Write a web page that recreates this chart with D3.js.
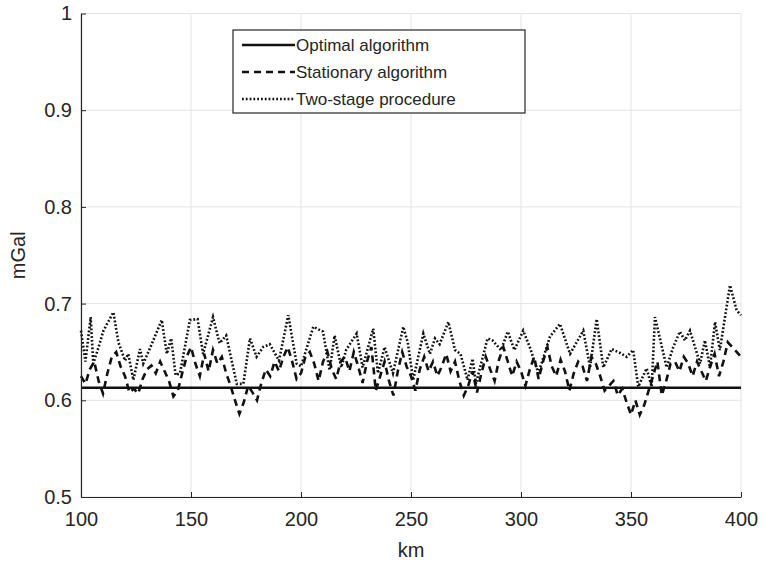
<!DOCTYPE html>
<html>
<head>
<meta charset="utf-8">
<script src="https://cdn.jsdelivr.net/npm/d3@7"></script>
<style>
  body { margin: 0; background: #fff; }
  text { font-family: "Liberation Sans", Arial, sans-serif; fill: #262626; }
  .grid line { stroke: #e3e3e3; stroke-width: 1; }
  .axis path, .axis line { stroke: #262626; }
</style>
</head>
<body>
<div class="chart"></div>
<script>
// -----------------------------------------------------------------------
// Data
// -----------------------------------------------------------------------

const X_TICKS = [100, 150, 200, 250, 300, 350, 400];
const Y_TICKS = [0.5, 0.6, 0.7, 0.8, 0.9, 1];
const SERIES_NAMES = ["Optimal algorithm", "Stationary algorithm", "Two-stage procedure"];

// optimal algorithm: flat line
const optimalKm = [100, 400];
const optimalVal = [0.613, 0.613];

// stationary algorithm, every 2 km
const stationaryKm = d3.range(100, 401, 2);
const stationaryVal = [
  0.625, 0.617, 0.632, 0.640, 0.620, 0.607, 0.628, 0.645, 0.650, 0.635,
  0.625, 0.608, 0.612, 0.607, 0.622, 0.632, 0.636, 0.628, 0.640, 0.630,
  0.620, 0.604, 0.610, 0.628, 0.645, 0.655, 0.638, 0.625, 0.648, 0.630,
  0.652, 0.638, 0.645, 0.628, 0.615, 0.600, 0.586, 0.598, 0.615, 0.608,
  0.600, 0.618, 0.632, 0.625, 0.640, 0.630, 0.645, 0.655, 0.640, 0.622,
  0.628, 0.645, 0.650, 0.638, 0.620, 0.640, 0.650, 0.632, 0.622, 0.640,
  0.645, 0.630, 0.650, 0.635, 0.618, 0.640, 0.655, 0.610, 0.625, 0.640,
  0.620, 0.605, 0.630, 0.650, 0.635, 0.625, 0.610, 0.632, 0.645, 0.630,
  0.640, 0.625, 0.635, 0.648, 0.630, 0.640, 0.620, 0.605, 0.615, 0.630,
  0.608, 0.628, 0.645, 0.632, 0.620, 0.642, 0.655, 0.640, 0.625, 0.640,
  0.630, 0.615, 0.632, 0.645, 0.622, 0.640, 0.655, 0.635, 0.625, 0.642,
  0.630, 0.610, 0.628, 0.640, 0.635, 0.620, 0.645, 0.638, 0.625, 0.610,
  0.615, 0.620, 0.605, 0.612, 0.598, 0.585, 0.600, 0.585, 0.595, 0.610,
  0.625, 0.640, 0.605, 0.620, 0.638, 0.640, 0.630, 0.645, 0.638, 0.625,
  0.640, 0.630, 0.620, 0.635, 0.648, 0.625, 0.640, 0.660, 0.655, 0.650,
  0.645
];

// two-stage procedure, peaks and troughs
const twoStageKm = [
  100, 102, 104.4, 105.6, 108, 110.2, 114.7, 117, 120, 121.5,
  123.8, 126.8, 128.3, 131, 136.7, 139, 141, 143, 145, 149.5,
  153, 155.5, 160, 163, 166, 170.8, 173.8, 176.8, 179.8, 182.8,
  185.8, 190, 194.2, 198, 200, 205.6, 210, 213, 215.3, 218.3,
  220.5, 225.3, 228, 232.8, 235, 238, 241.8, 246.5, 248.5, 251,
  255.6, 258.6, 260.9, 263, 267, 270, 272.5, 275.7, 278, 279.5,
  284.8, 287, 290.9, 294, 297, 301, 304, 307.9, 313.2, 317.7,
  322.3, 328.3, 331.4, 334.4, 337.4, 341.2, 345, 348, 351, 353.3,
  357.1, 359.4, 360.9, 366.2, 369.2, 372.2, 374.5, 376.8, 381.4, 383.6,
  385.9, 388.2, 390.4, 395, 398, 400
];
const twoStageVal = [
  0.672, 0.640, 0.686, 0.638, 0.655, 0.672, 0.691, 0.660, 0.641, 0.648,
  0.621, 0.653, 0.638, 0.652, 0.683, 0.648, 0.664, 0.626, 0.628, 0.683,
  0.684, 0.648, 0.686, 0.659, 0.667, 0.617, 0.617, 0.664, 0.645, 0.655,
  0.658, 0.641, 0.688, 0.638, 0.635, 0.676, 0.671, 0.631, 0.667, 0.634,
  0.652, 0.669, 0.634, 0.674, 0.628, 0.655, 0.628, 0.676, 0.660, 0.621,
  0.669, 0.648, 0.664, 0.658, 0.681, 0.652, 0.648, 0.621, 0.643, 0.617,
  0.664, 0.662, 0.652, 0.671, 0.652, 0.672, 0.655, 0.628, 0.666, 0.679,
  0.648, 0.672, 0.634, 0.684, 0.634, 0.653, 0.649, 0.645, 0.652, 0.614,
  0.633, 0.614, 0.686, 0.634, 0.655, 0.671, 0.662, 0.672, 0.638, 0.662,
  0.634, 0.681, 0.652, 0.719, 0.693, 0.688
];

// -----------------------------------------------------------------------
// Layout
// -----------------------------------------------------------------------

const WIDTH = 766;
const HEIGHT = 567;
const margin = { left: 81, right: 25, top: 13.5, bottom: 70 };

const DASHES = ["none", "7,5", "1.8,2"];

const svg = d3.select(".chart")
  .append("svg")
  .attr("width", WIDTH)
  .attr("height", HEIGHT);

const xScale = d3.scaleLinear()
  .domain([100, 400])
  .range([margin.left, WIDTH - margin.right]);
const yScale = d3.scaleLinear()
  .domain([0.5, 1])
  .range([HEIGHT - margin.bottom, margin.top]);

// grid lines
const grid = svg.append("g").attr("class", "grid");
grid.selectAll(".gx")
  .data(X_TICKS)
  .join("line")
  .attr("x1", d => xScale(d)).attr("x2", d => xScale(d))
  .attr("y1", yScale(0.5)).attr("y2", yScale(1));
grid.selectAll(".gy")
  .data(Y_TICKS)
  .join("line")
  .attr("class", "gy")
  .attr("x1", xScale(100)).attr("x2", xScale(400))
  .attr("y1", d => yScale(d)).attr("y2", d => yScale(d));

// series
const series = [
  { name: SERIES_NAMES[0], km: optimalKm, val: optimalVal, width: 2.6 },
  { name: SERIES_NAMES[1], km: stationaryKm, val: stationaryVal, width: 2.6 },
  { name: SERIES_NAMES[2], km: twoStageKm, val: twoStageVal, width: 2.6 }
];

const line = d3.line()
  .x(d => xScale(d[0]))
  .y(d => yScale(d[1]));

svg.append("g").attr("class", "lines")
  .selectAll("path")
  .data(series)
  .join("path")
  .attr("d", d => line(d.km.map((k, i) => [k, d.val[i]])))
  .attr("fill", "none")
  .attr("stroke", "#111")
  .attr("stroke-width", d => d.width)
  .attr("stroke-dasharray", (d, i) => DASHES[i]);

// axes, ticks pointing inward
const xAxis = svg.append("g")
  .attr("class", "axis x-axis")
  .attr("transform", `translate(0, ${yScale(0.5)})`)
  .call(d3.axisBottom(xScale).tickValues(X_TICKS).tickSizeInner(-5).tickSizeOuter(0).tickPadding(12));
const yAxis = svg.append("g")
  .attr("class", "axis y-axis")
  .attr("transform", `translate(${xScale(100)}, 0)`)
  .call(d3.axisLeft(yScale).tickValues(Y_TICKS).tickFormat(d3.format("")).tickSizeInner(-5).tickSizeOuter(0).tickPadding(9));

svg.selectAll(".axis text")
  .attr("font-size", 20)
  .attr("font-family", "Liberation Sans, Arial, sans-serif")
  .attr("fill", "#262626");
xAxis.selectAll("text").attr("dy", "0.85em");
svg.selectAll(".axis path").attr("stroke-width", 1.2);

// axis labels
svg.append("text")
  .attr("x", (xScale(100) + xScale(400)) / 2)
  .attr("y", 557)
  .attr("text-anchor", "middle")
  .attr("font-size", 20)
  .text("km");
svg.append("text")
  .attr("transform", `translate(25, ${(yScale(0.5) + yScale(1)) / 2}) rotate(-90)`)
  .attr("text-anchor", "middle")
  .attr("font-size", 20)
  .text("mGal");

// legend
const legend = svg.append("g").attr("class", "legend");
legend.append("rect")
  .attr("x", 233).attr("y", 30)
  .attr("width", 292).attr("height", 83)
  .attr("fill", "#fff")
  .attr("stroke", "#262626")
  .attr("stroke-width", 1.2);
const rows = legend.selectAll(".row")
  .data(series)
  .join("g")
  .attr("class", "row")
  .attr("transform", (d, i) => `translate(0, ${45 + i * 27})`);
rows.append("line")
  .attr("x1", 242).attr("x2", 295)
  .attr("stroke", "#111")
  .attr("stroke-width", d => d.width)
  .attr("stroke-dasharray", (d, i) => DASHES[i]);
rows.append("text")
  .attr("x", 296)
  .attr("dy", "0.35em")
  .attr("font-size", 17)
  .text(d => d.name);
</script>
</body>
</html>
